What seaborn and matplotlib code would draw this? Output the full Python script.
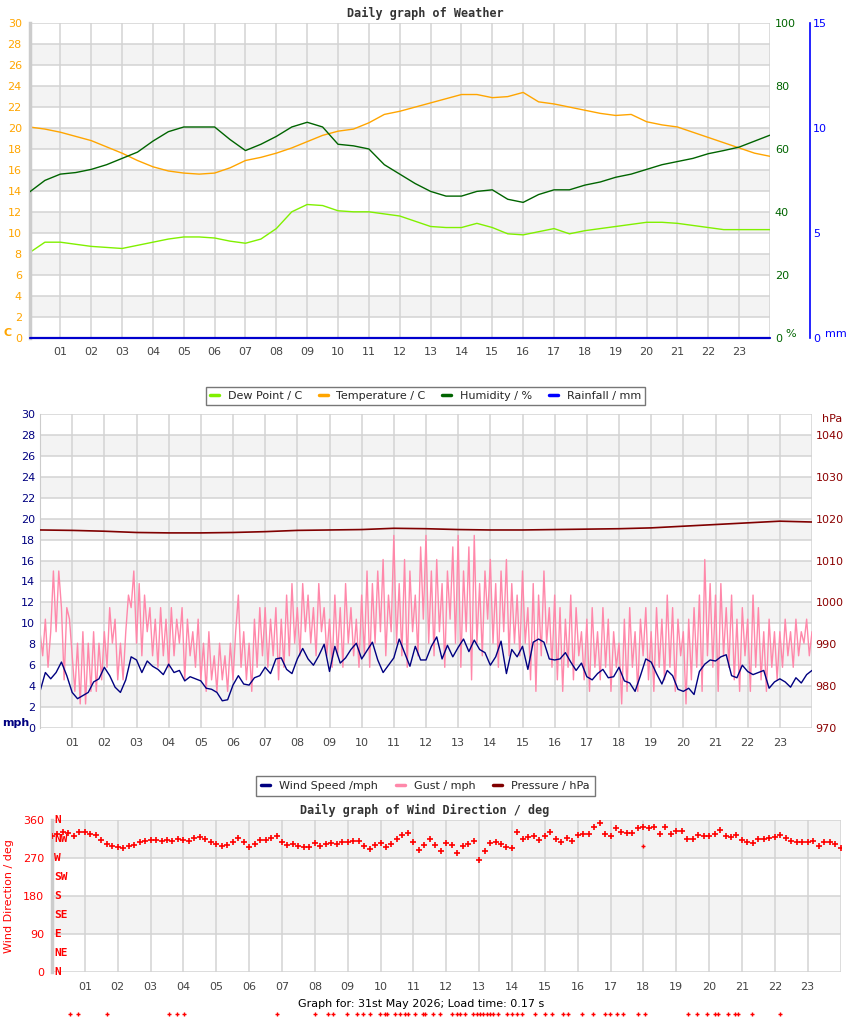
import numpy as np
import pandas as pd
import seaborn as sns
from matplotlib import pyplot as plt
from matplotlib.lines import Line2D
from matplotlib import transforms

# ---------------- weather panel: half-hourly readings ----------------
half_hours = np.arange(0, 24.01, 0.5)
temperature = [20.1, 19.9, 19.6, 19.2, 18.8, 18.2, 17.6, 16.9, 16.3, 15.9,
               15.7, 15.6, 15.7, 16.2, 16.9, 17.2, 17.6, 18.1, 18.7, 19.3,
               19.7, 19.9, 20.5, 21.3, 21.6, 22.0, 22.4, 22.8, 23.2, 23.2,
               22.9, 23.0, 23.4, 22.5, 22.3, 22.0, 21.7, 21.4, 21.2, 21.3,
               20.6, 20.3, 20.1, 19.6, 19.1, 18.6, 18.1, 17.6, 17.3]
dew_point = [8.1, 9.1, 9.1, 8.9, 8.7, 8.6, 8.5, 8.8, 9.1, 9.4,
             9.6, 9.6, 9.5, 9.2, 9.0, 9.4, 10.4, 12.0, 12.7, 12.6,
             12.1, 12.0, 12.0, 11.8, 11.6, 11.1, 10.6, 10.5, 10.5, 10.9,
             10.5, 9.9, 9.8, 10.1, 10.4, 9.9, 10.2, 10.4, 10.6, 10.8,
             11.0, 11.0, 10.9, 10.7, 10.5, 10.3, 10.3, 10.3, 10.3]
humidity = [46.3, 50.0, 52.0, 52.5, 53.5, 55.0, 57.0, 59.0, 62.5, 65.5,
            67.0, 67.0, 67.0, 63.0, 59.5, 61.5, 64.0, 67.0, 68.5, 67.0,
            61.5, 61.0, 60.0, 55.0, 52.0, 49.0, 46.5, 45.0, 45.0, 46.5,
            47.0, 44.0, 43.0, 45.5, 47.0, 47.0, 48.5, 49.5, 51.0, 52.0,
            53.5, 55.0, 56.0, 57.0, 58.5, 59.5, 60.6, 62.5, 64.4]
rain_hours = [0, 24]
rainfall = [0.0, 0.0]

# ---------------- wind panel ----------------
hours = np.arange(0, 25)
pressure = [1017.3, 1017.2, 1017.0, 1016.7, 1016.6, 1016.6, 1016.7, 1016.9,
            1017.2, 1017.3, 1017.4, 1017.7, 1017.6, 1017.4, 1017.3, 1017.3,
            1017.4, 1017.5, 1017.6, 1017.8, 1018.2, 1018.6, 1019.0, 1019.4,
            1019.2]

ten_min = np.arange(0, 145) / 6
wind_speed = [3.5, 5.3, 4.7, 5.3, 6.3, 5.0, 3.4, 2.8, 3.1, 3.4, 4.4, 4.7,
              5.8, 5.0, 3.9, 3.4, 4.6, 6.8, 6.5, 5.3, 6.4, 5.9, 5.6, 5.1,
              6.1, 5.3, 5.5, 4.5, 4.9, 4.7, 4.5, 3.8, 3.7, 3.4, 2.6, 2.7,
              4.1, 5.0, 4.2, 4.1, 4.8, 5.0, 5.8, 5.2, 6.6, 6.7, 5.6, 5.2,
              6.6, 7.6, 6.6, 6.0, 6.9, 8.0, 5.4, 7.8, 6.2, 6.7, 7.5, 8.1,
              6.6, 7.4, 8.2, 6.5, 5.3, 6.0, 6.7, 8.5, 7.2, 5.9, 7.8, 6.5,
              6.5, 7.8, 8.7, 6.6, 7.9, 6.8, 7.7, 8.5, 7.3, 8.4, 7.5, 7.2,
              6.0, 6.8, 8.3, 5.2, 7.5, 6.8, 7.8, 5.6, 8.2, 8.5, 8.2, 6.6,
              6.5, 6.6, 7.2, 6.3, 5.5, 6.2, 4.9, 4.6, 5.2, 5.6, 4.8, 4.9,
              5.8, 4.5, 4.3, 3.5, 5.0, 6.6, 6.3, 5.2, 4.2, 5.5, 5.0, 3.7,
              3.5, 3.8, 3.2, 5.4, 6.1, 6.5, 6.4, 6.8, 7.0, 5.0, 4.8, 6.0,
              5.4, 5.1, 5.3, 5.5, 3.8, 4.4, 4.7, 4.4, 3.9, 4.8, 4.3, 5.1,
              5.5]

five_min = np.arange(0, 289) / 12
gust = [9.2, 6.9, 10.4, 5.8, 9.2, 15.0, 9.2, 15.0, 11.5, 4.6, 11.5, 10.4,
        6.9, 3.5, 8.1, 2.3, 9.2, 2.3, 8.1, 3.5, 9.2, 3.5, 8.1, 4.6,
        9.2, 5.8, 11.5, 8.1, 10.4, 4.6, 8.1, 4.6, 9.2, 12.7, 11.5, 15.0,
        8.1, 13.8, 6.9, 12.7, 9.2, 11.5, 6.9, 10.4, 5.8, 11.5, 6.9, 10.4,
        5.8, 11.5, 6.9, 10.4, 8.1, 11.5, 4.6, 10.4, 6.9, 9.2, 5.8, 10.4,
        4.6, 8.1, 3.5, 9.2, 4.6, 6.9, 3.5, 8.1, 4.6, 6.9, 3.5, 8.1,
        4.6, 9.2, 12.7, 5.8, 9.2, 4.6, 8.1, 3.5, 10.4, 5.8, 11.5, 6.9,
        11.5, 5.8, 10.4, 6.9, 11.5, 4.6, 10.4, 5.8, 12.7, 6.9, 13.8, 8.1,
        11.5, 6.9, 13.8, 9.2, 12.7, 8.1, 11.5, 6.9, 13.8, 9.2, 11.5, 6.9,
        10.4, 5.8, 12.7, 6.9, 11.5, 5.8, 13.8, 8.1, 11.5, 6.9, 10.4, 5.8,
        12.7, 6.9, 15.0, 5.8, 13.8, 8.1, 15.0, 9.2, 16.1, 6.9, 12.7, 9.2,
        18.4, 8.1, 13.8, 6.9, 16.1, 5.8, 15.0, 9.2, 12.7, 6.9, 17.3, 10.4,
        18.4, 8.1, 15.0, 6.9, 16.1, 9.2, 13.8, 5.8, 15.0, 10.4, 17.3, 8.1,
        18.4, 5.8, 15.0, 9.2, 17.3, 4.6, 18.4, 8.1, 13.8, 6.9, 15.0, 10.4,
        16.1, 8.1, 13.8, 5.8, 15.0, 9.2, 16.1, 6.9, 13.8, 8.1, 12.7, 6.9,
        15.0, 8.1, 11.5, 4.6, 13.8, 3.5, 12.7, 6.9, 15.0, 8.1, 11.5, 5.8,
        12.7, 4.6, 11.5, 3.5, 10.4, 5.8, 12.7, 4.6, 11.5, 6.9, 9.2, 4.6,
        10.4, 3.5, 11.5, 5.8, 9.2, 4.6, 11.5, 5.8, 10.4, 3.5, 9.2, 5.8,
        8.1, 2.3, 10.4, 3.5, 11.5, 5.8, 9.2, 3.5, 10.4, 6.9, 11.5, 4.6,
        9.2, 3.5, 11.5, 5.8, 10.4, 4.6, 12.7, 5.8, 11.5, 3.5, 10.4, 6.9,
        9.2, 2.3, 10.4, 4.6, 11.5, 5.8, 12.7, 3.5, 16.1, 6.9, 13.8, 5.8,
        12.7, 3.5, 13.8, 6.9, 11.5, 5.8, 12.7, 4.6, 10.4, 3.5, 11.5, 6.9,
        10.4, 3.5, 12.7, 5.8, 11.5, 4.6, 9.2, 3.5, 10.4, 5.8, 9.2, 4.6,
        9.2, 5.8, 10.4, 6.9, 9.2, 5.8, 10.4, 6.9, 9.2, 8.1, 10.4, 6.9,
        9.2]

# ---------------- wind direction panel ----------------
wind_dir = [322, 327, 331, 330, 322, 332, 331, 327, 324, 312, 302, 298,
            295, 294, 298, 301, 308, 310, 312, 312, 311, 313, 310, 314,
            313, 311, 317, 319, 315, 309, 302, 298, 301, 308, 317, 309,
            297, 302, 312, 313, 318, 322, 307, 301, 303, 299, 295, 297,
            305, 299, 302, 305, 303, 308, 309, 310, 311, 299, 291, 301,
            306, 295, 304, 315, 324, 330, 307, 290, 300, 316, 300, 286,
            306, 301, 282, 298, 303, 311, 265, 287, 305, 309, 302, 297,
            294, 332, 315, 320, 323, 313, 322, 332, 315, 309, 317, 310,
            325, 327, 327, 343, 352, 328, 322, 342, 332, 329, 330, 342,
            344, 340, 343, 328, 344, 326, 335, 334, 316, 316, 325, 322,
            321, 326, 336, 323, 319, 324, 312, 307, 305, 316, 314, 317,
            320, 324, 317, 311, 309, 307, 309, 310, 299, 308, 309, 302,
            293]
odd_hours = [18.0]
odd_dir = [298]
calm_hours = [0.55, 0.79, 1.67, 3.56, 3.80, 4.02, 6.85, 8.00, 8.40, 8.55,
              8.98, 9.28, 9.46, 9.68, 9.98, 10.13, 10.19, 10.44, 10.59,
              10.74, 10.83, 11.05, 11.29, 11.35, 11.59, 11.81, 12.17, 12.33,
              12.42, 12.57, 12.81, 12.93, 13.03, 13.12, 13.24, 13.33, 13.42,
              13.57, 13.85, 14.00, 14.15, 14.30, 14.70, 15.00, 15.21, 15.55,
              15.70, 16.13, 16.46, 16.83, 16.98, 17.19, 17.38, 17.83, 18.05,
              19.35, 19.63, 19.93, 20.18, 20.27, 20.57, 20.79, 20.88, 21.30,
              22.15]
calm_dir = [-100] * len(calm_hours)

hour_labels = ["" if h in (0, 24) else f"{h:02d}" for h in hours]
compass = ["N", "NE", "E", "SE", "S", "SW", "W", "NW", "N"]
compass_deg = [0, 45, 90, 135, 180, 225, 270, 315, 360]

GRID = "#d3d3d3"
BAND = "#f3f3f3"
TITLE = dict(family="DejaVu Sans Mono", weight="bold", size=8.5, color="#333333")

sns.set_style("white")
plt.rcParams["font.family"] = ["DejaVu Sans"]
plt.rcParams["font.size"] = 8

W, H = 850, 1017
fig = plt.figure(figsize=(W / 100, H / 100), dpi=100)


def px_axes(left, top, right, bottom):
    return fig.add_axes([left / W, 1 - bottom / H, (right - left) / W, (bottom - top) / H])


def backdrop(ax, ymax, step, bands, xpad):
    for lo in bands:
        ax.axhspan(lo, lo + step, color=BAND, lw=0, zorder=0)
    ax.set_xlim(0, 24)
    ax.set_ylim(0, ymax)
    ax.set_xticks(hours, hour_labels)
    ax.set_yticks(np.arange(0, ymax + 0.1, step))
    ax.grid(True, color=GRID, lw=1.1)
    ax.set_axisbelow(True)
    ax.tick_params(length=0, labelsize=8)
    ax.tick_params(axis="x", colors="#444444", pad=xpad)
    for s in ax.spines.values():
        s.set_visible(False)
    ax.set_xlabel("")
    ax.set_ylabel("")


# ================= panel 1 =================
ax1 = px_axes(29.5, 23.3, 770, 337.5)
backdrop(ax1, 30, 2, np.arange(2, 30, 4), 7)
ax1.spines["left"].set_visible(True)
ax1.spines["left"].set_color("#cccccc")
ax1.spines["left"].set_linewidth(2.5)
ax1.tick_params(axis="y", colors="#ffa500", pad=5.5)
sns.lineplot(x=half_hours, y=temperature, ax=ax1, color="#ffa500", lw=1,
             estimator=None, sort=False)
sns.lineplot(x=half_hours, y=dew_point, ax=ax1, color="#80f000", lw=1,
             estimator=None, sort=False)

ax1h = ax1.twinx()
ax1h.set_ylim(0, 100)
ax1h.set_yticks([0, 20, 40, 60, 80, 100])
ax1h.tick_params(length=0, colors="#006400", labelsize=8, pad=3.5)
for s in ax1h.spines.values():
    s.set_visible(False)
sns.lineplot(x=half_hours, y=humidity, ax=ax1h, color="#006400", lw=1,
             estimator=None, sort=False)
ax1h.set_ylabel("")

ax1r = ax1.twinx()
ax1r.set_ylim(0, 15)
ax1r.set_yticks([0, 5, 10, 15])
ax1r.tick_params(length=0, colors="#0000ff", labelsize=8, pad=2)
for s in ax1r.spines.values():
    s.set_visible(False)
ax1r.spines["right"].set_visible(True)
ax1r.spines["right"].set_position(("outward", 28.8))
ax1r.spines["right"].set_color("#0000ff")
ax1r.spines["right"].set_linewidth(1.2)
sns.lineplot(x=rain_hours, y=rainfall, ax=ax1r, color="#0000cd", lw=1.6,
             estimator=None, sort=False, clip_on=False)
ax1r.set_ylabel("")
ax1r.set_xlim(0, 24)

fig.text(425 / W, 1 - 13 / H, "Daily graph of Weather", ha="center", va="center", **TITLE)
fig.text(4 / W, 1 - 333 / H, "C", color="#ffa500", weight="bold", size=8, va="center")
fig.text(785 / W, 1 - 334 / H, "%", color="#006400", size=8, va="center")
fig.text(825 / W, 1 - 334 / H, "mm", color="#0000ff", size=8, va="center")

leg1 = [Line2D([], [], color=c, lw=2.5) for c in ["#80f000", "#ffa500", "#006400", "#0000ff"]]
fig.legend(leg1, ["Dew Point / C", "Temperature / C", "Humidity / %", "Rainfall / mm"],
           loc="center", bbox_to_anchor=(425.5 / W, 1 - 396 / H), ncol=4, fontsize=8,
           frameon=True, fancybox=False, edgecolor="#777777", framealpha=1,
           handlelength=0.8, handletextpad=0.8, columnspacing=1.5, borderpad=0.35,
           borderaxespad=0)

# ================= panel 2 =================
ax2 = px_axes(40, 414, 812, 728)
backdrop(ax2, 30, 2, np.arange(2, 30, 4), 7)
ax2.spines["left"].set_visible(True)
ax2.spines["left"].set_color("#cccccc")
ax2.tick_params(axis="y", colors="#000080", pad=3.5)
sns.lineplot(x=five_min, y=gust, ax=ax2, color="#ff88aa", lw=1,
             estimator=None, sort=False)
sns.lineplot(x=ten_min, y=wind_speed, ax=ax2, color="#000080", lw=1,
             estimator=None, sort=False)
ax2.set_ylabel("")

ax2p = ax2.twinx()
ax2p.set_ylim(970, 1045)
ax2p.set_yticks(np.arange(970, 1041, 10))
ax2p.tick_params(length=0, colors="#8b0000", labelsize=8, pad=2.5)
for s in ax2p.spines.values():
    s.set_visible(False)
sns.lineplot(x=hours, y=pressure, ax=ax2p, color="#800000", lw=1.2,
             estimator=None, sort=False)
ax2p.set_ylabel("")
ax2p.set_xlim(0, 24)

fig.text(2 / W, 1 - 723 / H, "mph", color="#000080", weight="bold", size=8, va="center")
fig.text(822 / W, 1 - 419 / H, "hPa", color="#8b0000", size=8, va="center")

leg2 = [Line2D([], [], color=c, lw=2.5) for c in ["#000080", "#ff88aa", "#800000"]]
fig.legend(leg2, ["Wind Speed /mph", "Gust / mph", "Pressure / hPa"],
           loc="center", bbox_to_anchor=(425.5 / W, 1 - 786 / H), ncol=3, fontsize=8,
           frameon=True, fancybox=False, edgecolor="#777777", framealpha=1,
           handlelength=0.8, handletextpad=0.8, columnspacing=1.6, borderpad=0.45,
           borderaxespad=0)

# ================= panel 3 =================
ax3 = px_axes(52, 820, 840.5, 972)
backdrop(ax3, 360, 90, [90, 270], 7)
ax3.spines["left"].set_visible(True)
ax3.spines["left"].set_color("#cccccc")
ax3.spines["left"].set_linewidth(2.5)
ax3.tick_params(axis="y", colors="red", pad=5.8)
sns.scatterplot(x=ten_min, y=wind_dir, ax=ax3, color="red", marker="+", s=13,
                linewidth=1.2, zorder=3)
sns.scatterplot(x=odd_hours, y=odd_dir, ax=ax3, color="red", marker="+", s=9,
                linewidth=1, zorder=3)
sns.scatterplot(x=calm_hours, y=calm_dir, ax=ax3, color="red", marker="+", s=8,
                linewidth=1, clip_on=False, zorder=3)
ax3.set_ylim(0, 360)
ax3.set_ylabel("")
blend = transforms.blended_transform_factory(ax3.transAxes, ax3.transData)
for name, deg in zip(compass, compass_deg):
    ax3.text(0.003, deg, name, transform=blend, ha="left", va="center",
             color="red", family="DejaVu Sans Mono", weight="bold", size=8, zorder=4)

fig.text(425 / W, 1 - 810 / H, "Daily graph of Wind Direction / deg",
         ha="center", va="center", **TITLE)
fig.text(9 / W, 1 - 896 / H, "Wind Direction / deg", rotation=90, color="red",
         size=8, ha="center", va="center")
fig.text(421 / W, 1 - 1004 / H, "Graph for: 31st May 2026; Load time: 0.17 s",
         ha="center", va="center", size=8, color="black")

fig.savefig("out.png", dpi=100)
